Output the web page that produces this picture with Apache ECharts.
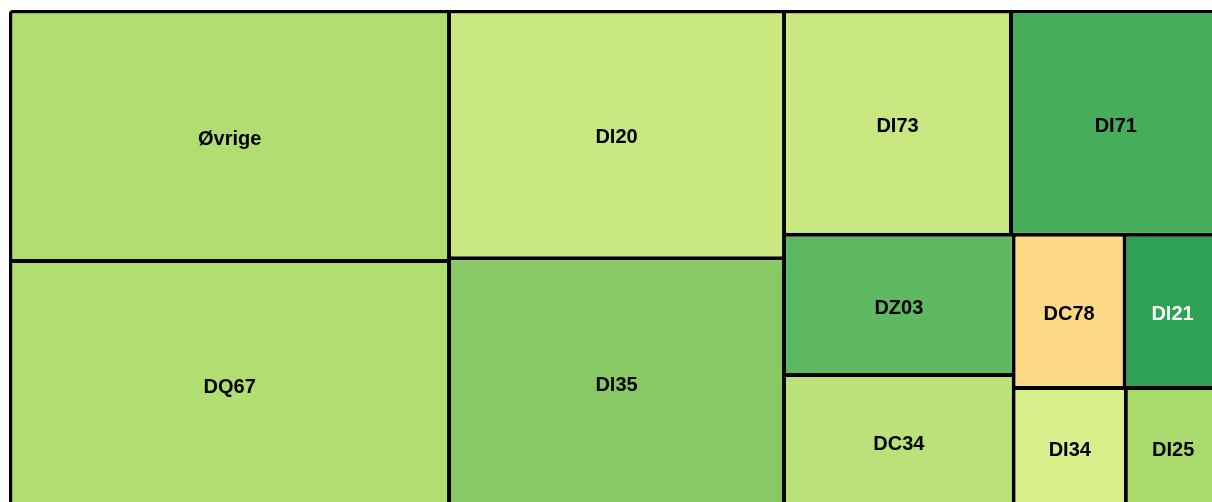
<!DOCTYPE html>
<html>
<head>
<meta charset="utf-8">
<script src="https://cdn.jsdelivr.net/npm/echarts@6/dist/echarts.min.js"></script>
<style>
  html, body { margin: 0; padding: 0; background: #fff; overflow: hidden; }
  #chart { width: 1240px; height: 520px; }
</style>
</head>
<body>
<div id="chart"></div>
<script>
// Tile names and their sizes, in display order
const categories = ['Øvrige', 'DQ67', 'DI20', 'DI35', 'DI73', 'DI71', 'DZ03', 'DC34', 'DC78', 'DI21', 'DI34', 'DI25'];
const values = [1094, 1081, 827, 835, 507, 468, 322, 304, 170, 147, 134, 113];

// Fill colour for each tile (red-yellow-green scale)
const tileColors = ['#b1dd71', '#b1dd71', '#c9e882', '#88c966', '#c8e781', '#46ad5a',
                    '#5fb962', '#bae17a', '#fdd985', '#2da154', '#d9ef8b', '#a9da6c'];
// Label colour per tile: white on the darkest tile
const labelColors = ['#000', '#000', '#000', '#000', '#000', '#000',
                     '#000', '#000', '#000', '#fff', '#000', '#000'];

const data = categories.map((name, i) => ({
  name: name,
  value: values[i],
  itemStyle: { color: tileColors[i] },
  label: { color: labelColors[i] }
}));

const chart = echarts.init(document.getElementById('chart'), null, { renderer: 'canvas' });
chart.setOption({
  animation: false,
  series: [{
    type: 'treemap',
    left: 9,
    top: 10,
    width: 1213,
    height: 499,
    sort: false,
    roam: false,
    nodeClick: false,
    breadcrumb: { show: false },
    label: {
      show: true,
      position: 'inside',
      offset: [0, 3],
      fontSize: 20,
      fontWeight: 'bold',
      fontFamily: '"Liberation Sans", Arial, sans-serif',
      color: '#000'
    },
    levels: [
      { itemStyle: { borderColor: '#000', borderWidth: 3.5, gapWidth: 4, borderRadius: 4 } },
      { itemStyle: { borderWidth: 0 } }
    ],
    data: data
  }]
});
</script>
</body>
</html>
